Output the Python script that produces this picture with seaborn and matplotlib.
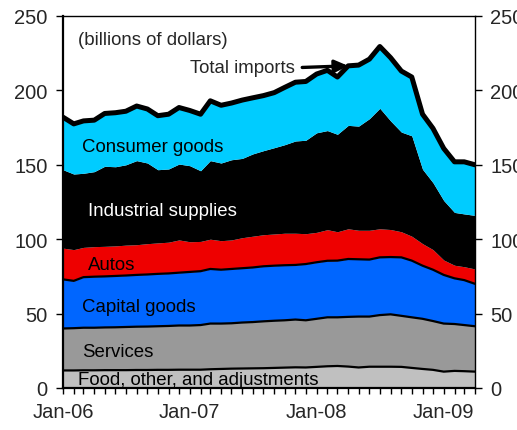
import pandas as pd
import matplotlib
matplotlib.use('Agg')
import matplotlib.pyplot as plt
import matplotlib.dates as mdates
import seaborn as sns

# Monthly imports, Jan-06 .. Apr-09 (billions of dollars)
months = pd.date_range('2006-01-01', periods=40, freq='MS')

food = [11.8, 11.8, 11.9, 11.9, 12.0, 12.0, 12.0, 12.1, 12.1, 12.2,
        12.2, 12.3, 12.3, 12.3, 12.6, 12.8, 13.0, 13.1, 13.2, 13.3,
        13.5, 13.7, 13.9, 13.8, 14.2, 14.6, 14.8, 14.4, 13.8, 14.3,
        14.3, 14.3, 14.2, 13.5, 12.8, 12.2, 11.0, 11.5, 11.3, 11.0]
services = [28.2, 28.4, 28.6, 28.6, 28.7, 28.8, 29.0, 29.1, 29.2, 29.3,
            29.5, 29.7, 29.7, 30.0, 30.7, 30.5, 30.5, 30.9, 31.1, 31.5,
            31.7, 31.8, 32.1, 31.7, 32.3, 32.9, 32.7, 33.4, 34.2, 33.7,
            34.7, 35.2, 34.3, 34.0, 33.7, 32.8, 32.3, 31.5, 31.0, 30.5]
capital = [33.0, 31.8, 34.0, 34.3, 34.3, 34.5, 34.6, 34.8, 35.0, 35.2,
           35.3, 35.5, 36.0, 36.2, 36.7, 36.2, 36.5, 36.5, 36.7, 37.0,
           37.0, 37.0, 36.7, 37.8, 38.0, 38.0, 38.1, 38.9, 38.5, 38.3,
           38.8, 38.5, 39.3, 38.1, 35.7, 34.5, 32.7, 30.7, 30.2, 28.5]
autos = [21.0, 21.0, 20.0, 20.2, 20.2, 20.2, 20.4, 20.3, 20.7, 20.8,
         21.0, 22.0, 20.3, 20.0, 20.0, 19.5, 19.5, 20.5, 21.0, 21.2,
         21.3, 21.5, 21.3, 20.4, 20.1, 20.9, 19.4, 20.3, 19.5, 19.7,
         19.2, 18.5, 17.2, 16.4, 14.8, 13.5, 10.0, 8.8, 9.0, 10.0]
industrial = [52.7, 50.8, 49.8, 50.4, 53.8, 53.2, 54.0, 56.5, 54.2, 49.2,
              49.2, 51.0, 51.1, 47.5, 52.8, 52.2, 53.9, 53.3, 55.3, 56.5,
              58.0, 59.5, 62.0, 62.8, 66.9, 66.6, 65.5, 69.5, 70.0, 75.0,
              81.0, 73.0, 67.0, 67.5, 50.0, 45.0, 40.0, 35.5, 35.5, 36.0]
consumer = [35.3, 33.7, 35.2, 34.6, 35.5, 36.3, 36.0, 36.7, 36.3, 36.3,
            36.8, 38.0, 37.1, 38.0, 40.2, 38.8, 38.1, 39.2, 37.7, 37.0,
            37.0, 38.5, 39.5, 39.5, 39.5, 40.5, 38.5, 40.0, 41.0, 40.0,
            41.5, 42.5, 41.0, 39.5, 37.0, 36.5, 35.0, 34.0, 35.0, 34.0]

df = pd.DataFrame({'month': months, 'food': food, 'services': services,
                   'capital': capital, 'autos': autos,
                   'industrial': industrial, 'consumer': consumer})
layers = ['food', 'services', 'capital', 'autos', 'industrial', 'consumer']
colors = ['#C0C0C0', '#999999', '#0066FF', '#EE0000', '#000000', '#00CCFF']
cum = df[layers].cumsum(axis=1)
df['total'] = cum['consumer']

sns.set_style('ticks')
plt.rcParams['font.family'] = ['Liberation Sans', 'DejaVu Sans']

fig = plt.figure(figsize=(5.17, 4.31), dpi=100)
ax = fig.add_axes([63 / 517, 42 / 431, 412 / 517, 372 / 431])

ax.stackplot(df['month'], *[df[c] for c in layers], colors=colors, linewidth=0)

# thin black borders between the lower layers
for c in ['food', 'services', 'capital']:
    sns.lineplot(x=df['month'], y=cum[c], ax=ax, color='black', linewidth=1.6)
sns.lineplot(x=df['month'], y=df['total'], ax=ax, color='black', linewidth=3.6)

ax.set_xlim(months[0], months[-1])
ax.set_ylim(0, 250)
ax.set_yticks([0, 50, 100, 150, 200, 250])
ax.set_xlabel('')
ax.set_ylabel('')

ax.xaxis.set_major_locator(mdates.MonthLocator(bymonth=1))
ax.xaxis.set_minor_locator(mdates.MonthLocator())
ax.xaxis.set_major_formatter(mdates.DateFormatter('%b-%y'))
ax.tick_params(axis='x', which='both', direction='out', length=4, width=1,
               color='black', labelsize=14.5, pad=6)
ax.tick_params(axis='y', direction='out', length=5, width=1, color='black',
               labelsize=14.5, pad=6, right=True, labelright=True)
for s in ['left', 'bottom']:
    ax.spines[s].set_linewidth(1.6)
for s in ['top', 'right']:
    ax.spines[s].set_linewidth(1.0)
for s in ax.spines.values():
    s.set_color('black')

fs = 13.4
ax.text(0.036, 0.938, '(billions of dollars)', transform=ax.transAxes,
        fontsize=fs, va='center', ha='left')
ax.annotate('Total imports', xy=(months[27], df['total'][27]),
            xytext=(0.308, 0.861), textcoords='axes fraction',
            fontsize=fs, va='center', ha='left',
            arrowprops=dict(arrowstyle='-|>,head_length=0.6,head_width=0.28',
                            color='black', lw=2.4, relpos=(1, 0.5),
                            shrinkA=3, shrinkB=0))
labels = [('Consumer goods', 0.046, 0.648, 'black'),
          ('Industrial supplies', 0.061, 0.476, 'white'),
          ('Autos', 0.061, 0.333, 'black'),
          ('Capital goods', 0.046, 0.218, 'black'),
          ('Services', 0.046, 0.098, 'black'),
          ('Food, other, and adjustments', 0.036, 0.024, 'black')]
for txt, x, y, col in labels:
    ax.text(x, y, txt, transform=ax.transAxes, fontsize=fs, color=col,
            va='center', ha='left')

fig.savefig('out.png', dpi=100)
